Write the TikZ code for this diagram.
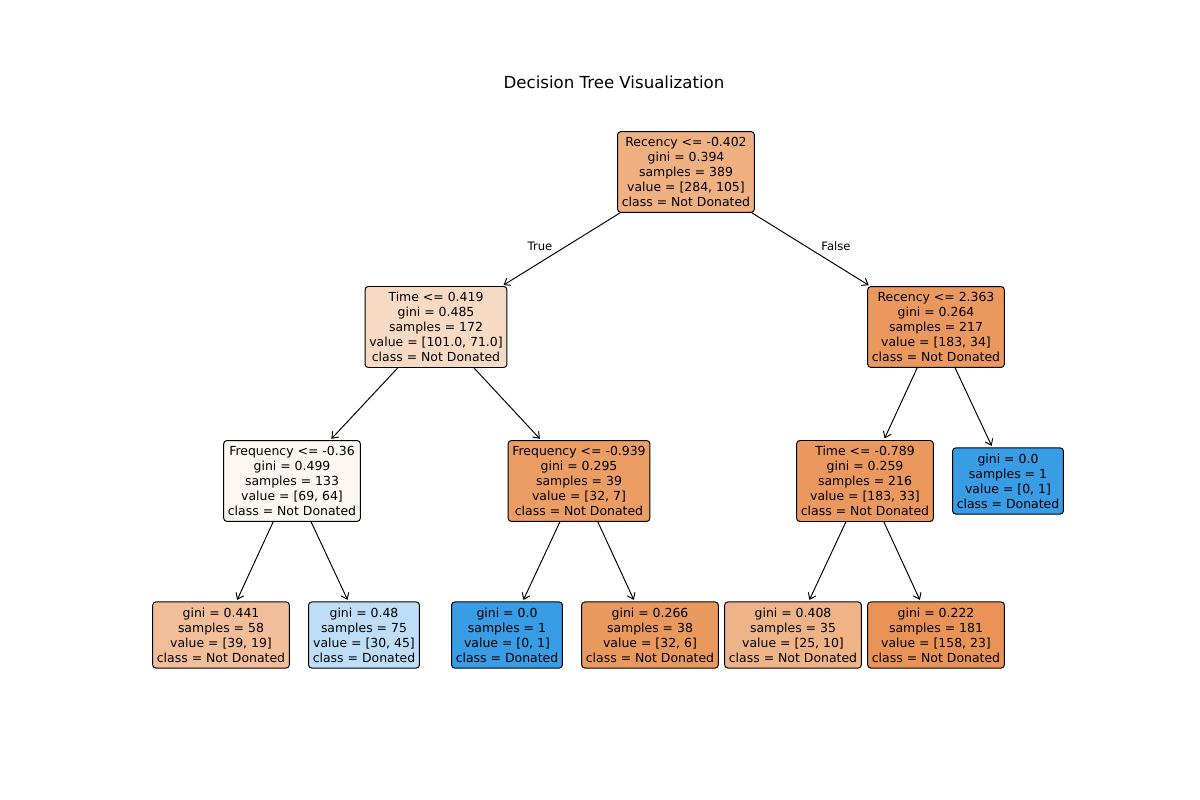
\documentclass[tikz,border=0pt]{standalone}
\usepackage{fontspec}
\setmainfont{DejaVu Sans}
\usepackage{tikz}
\usetikzlibrary{arrows.meta}

\definecolor{cRoot}{HTML}{EFB082}
\definecolor{cTimeA}{HTML}{F7DAC4}
\definecolor{cRecB}{HTML}{EA985E}
\definecolor{cFreqA}{HTML}{FDF6F1}
\definecolor{cFreqB}{HTML}{EB9D64}
\definecolor{cTimeB}{HTML}{EA985D}
\definecolor{cBlue}{HTML}{399DE5}
\definecolor{cLeafA}{HTML}{F2BE99}
\definecolor{cLeafB}{HTML}{BDDEF6}
\definecolor{cLeafD}{HTML}{EA995E}
\definecolor{cLeafE}{HTML}{EFB388}
\definecolor{cLeafF}{HTML}{E99356}

\tikzset{
	treebox/.style={draw, line width=0.55pt, rounded corners=1.8pt, align=center,
		inner xsep=2.4pt, inner ysep=3.3pt, font=\fontsize{7.09}{8.5}\selectfont},
	edgelabel/.style={font=\fontsize{6.6}{8}\selectfont},
	treearrow/.style={-{Straight Barb[length=3.2pt,width=4.8pt]}, line width=0.55pt, shorten >=1pt},
}

\begin{document}
\begin{tikzpicture}[x=0.02cm,y=-0.02cm]
		\useasboundingbox (0,0) rectangle (1200,800);
		\node[font=\fontsize{9.45}{11}\selectfont] (title) at (614,82) {Decision Tree Visualization};
		\node[treebox, fill=cRoot] (rec1) at (686,172) {Recency <= -0.402\\gini = 0.394\\samples = 389\\value = [284, 105]\\class = Not Donated};
		\node[treebox, fill=cTimeA] (time1) at (436,327) {Time <= 0.419\\gini = 0.485\\samples = 172\\value = [101.0, 71.0]\\class = Not Donated};
		\node[treebox, fill=cRecB] (rec2) at (936,327) {Recency <= 2.363\\gini = 0.264\\samples = 217\\value = [183, 34]\\class = Not Donated};
		\node[treebox, fill=cFreqA] (freq1) at (292,481) {Frequency <= -0.36\\gini = 0.499\\samples = 133\\value = [69, 64]\\class = Not Donated};
		\node[treebox, fill=cFreqB] (freq2) at (579,481) {Frequency <= -0.939\\gini = 0.295\\samples = 39\\value = [32, 7]\\class = Not Donated};
		\node[treebox, fill=cTimeB] (time2) at (865,481) {Time <= -0.789\\gini = 0.259\\samples = 216\\value = [183, 33]\\class = Not Donated};
		\node[treebox, fill=cBlue] (leaf7) at (1008,481) {gini = 0.0\\samples = 1\\value = [0, 1]\\class = Donated};
		\node[treebox, fill=cLeafA] (leaf1) at (221,635) {gini = 0.441\\samples = 58\\value = [39, 19]\\class = Not Donated};
		\node[treebox, fill=cLeafB] (leaf2) at (364,635) {gini = 0.48\\samples = 75\\value = [30, 45]\\class = Donated};
		\node[treebox, fill=cBlue] (leaf3) at (507,635) {gini = 0.0\\samples = 1\\value = [0, 1]\\class = Donated};
		\node[treebox, fill=cLeafD] (leaf4) at (650,635) {gini = 0.266\\samples = 38\\value = [32, 6]\\class = Not Donated};
		\node[treebox, fill=cLeafE] (leaf5) at (793,635) {gini = 0.408\\samples = 35\\value = [25, 10]\\class = Not Donated};
		\node[treebox, fill=cLeafF] (leaf6) at (936,635) {gini = 0.222\\samples = 181\\value = [158, 23]\\class = Not Donated};
		\draw [treearrow](rec1)--(time1);
		\draw [treearrow](rec1)--(rec2);
		\draw [treearrow](time1)--(freq1);
		\draw [treearrow](time1)--(freq2);
		\draw [treearrow](rec2)--(time2);
		\draw [treearrow](rec2)--(leaf7);
		\draw [treearrow](freq1)--(leaf1);
		\draw [treearrow](freq1)--(leaf2);
		\draw [treearrow](freq2)--(leaf3);
		\draw [treearrow](freq2)--(leaf4);
		\draw [treearrow](time2)--(leaf5);
		\draw [treearrow](time2)--(leaf6);
		\node[edgelabel] (truelab) at (540,246) {True};
		\node[edgelabel] (falselab) at (836,246) {False};
	\end{tikzpicture}
\end{document}
